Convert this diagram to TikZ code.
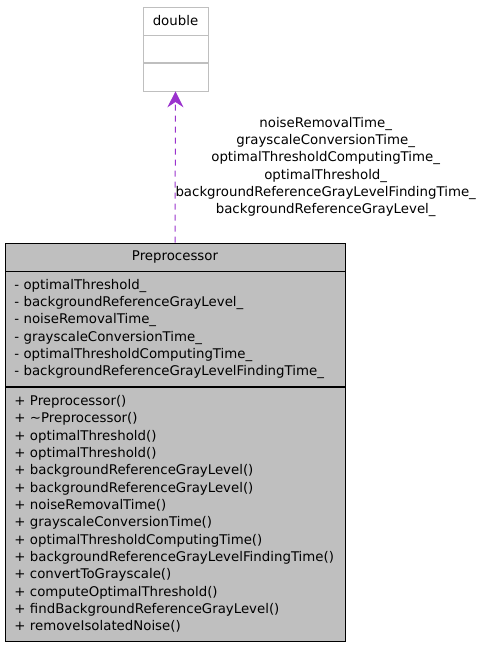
\documentclass[tikz,border=0pt]{standalone}
\usepackage{fontspec}
\setmainfont{DejaVu Sans}
\usetikzlibrary{arrows.meta,positioning}

\definecolor{boxgray}{HTML}{BFBFBF}
\definecolor{usagepurple}{HTML}{9A32CD}

\tikzset{
    classpart/.style={draw=black, fill=boxgray, minimum width=255pt, inner xsep=7pt, inner ysep=0pt},
    memberlist/.style={classpart, text width=241pt, align=left},
    typepart/.style={draw=boxgray, fill=white, minimum width=48.75pt, inner sep=0pt},
    usage/.style={usagepurple, line width=0.75pt, dash pattern=on 4.5pt off 3.75pt,
        -{Stealth[length=12pt,width=12pt,inset=4pt]}}
}

\begin{document}
\begin{tikzpicture}[x=0.75pt, y=-0.75pt, font=\fontsize{10}{13}\selectfont, node distance=0pt]
    \useasboundingbox (0,0) rectangle (481,645);

    % type used by the class
    \node[typepart, minimum height=21pt] (dblName) at (175.5,21) {double};
    \node[typepart, minimum height=20.25pt, below=of dblName] (dblAttr) {};
    \node[typepart, minimum height=21pt, below=of dblAttr] (dblOps) {};

    % the class itself
    \node[classpart, minimum height=21pt] (prepName) at (175,257) {Preprocessor};
    \node[memberlist, minimum height=86.25pt, below=of prepName] (prepAttr) {%
        - optimalThreshold\_\\
        - backgroundReferenceGrayLevel\_\\
        - noiseRemovalTime\_\\
        - grayscaleConversionTime\_\\
        - optimalThresholdComputingTime\_\\
        - backgroundReferenceGrayLevelFindingTime\_};
    \node[memberlist, minimum height=190.5pt, below=of prepAttr] (prepOps) {%
        + Preprocessor()\\
        + \textasciitilde Preprocessor()\\
        + optimalThreshold()\\
        + optimalThreshold()\\
        + backgroundReferenceGrayLevel()\\
        + backgroundReferenceGrayLevel()\\
        + noiseRemovalTime()\\
        + grayscaleConversionTime()\\
        + optimalThresholdComputingTime()\\
        + backgroundReferenceGrayLevelFindingTime()\\
        + convertToGrayscale()\\
        + computeOptimalThreshold()\\
        + findBackgroundReferenceGrayLevel()\\
        + removeIsolatedNoise()};

    % usage relation
    \draw[usage] (prepName.north) -- (dblOps.south)
        node[midway, anchor=west, xshift=-3.5pt, align=center, text=black] {%
            noiseRemovalTime\_\\
            grayscaleConversionTime\_\\
            optimalThresholdComputingTime\_\\
            optimalThreshold\_\\
            backgroundReferenceGrayLevelFindingTime\_\\
            backgroundReferenceGrayLevel\_};
\end{tikzpicture}
\end{document}
